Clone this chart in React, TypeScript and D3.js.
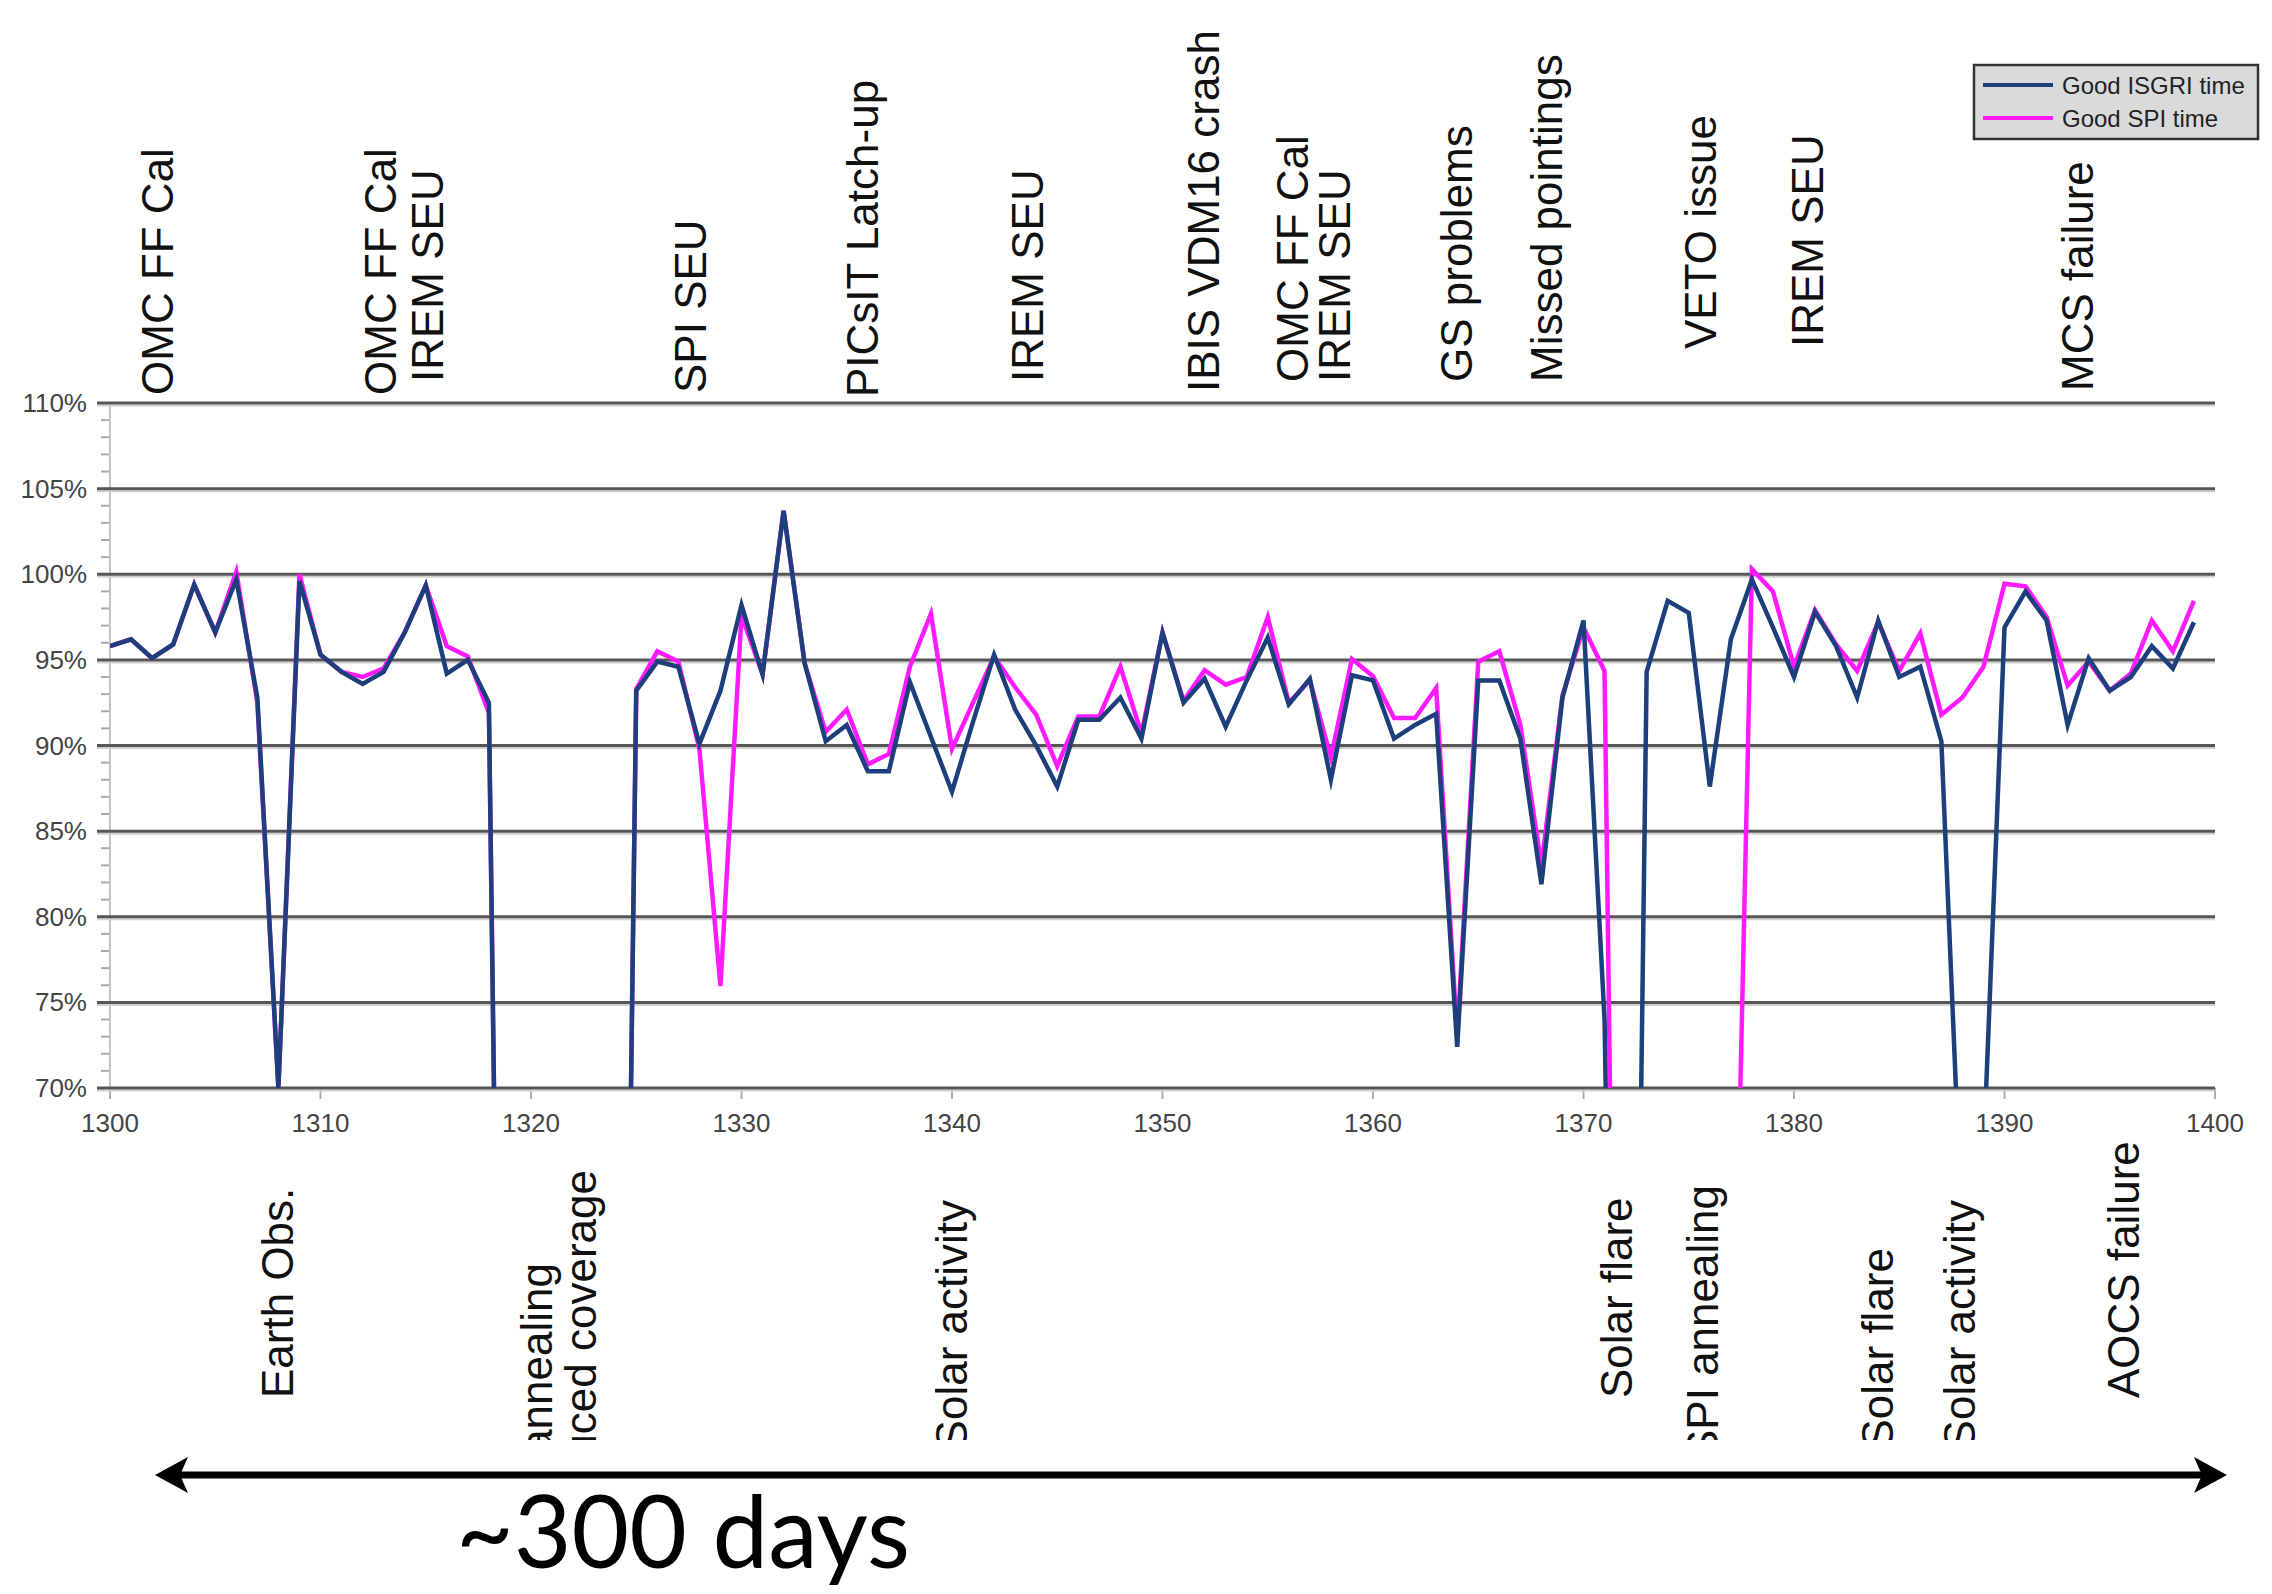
import React, { useEffect, useRef } from 'react';
import * as d3 from 'd3';

// good observing time per revolution (%), one value per revolution from 1300
const firstRev = 1300;
const isgriGood = [
  95.8, 96.2, 95.1, 95.9, 99.4, 96.6, 99.7, 92.8, 70.0, 99.6,
  95.3, 94.3, 93.6, 94.3, 96.6, 99.35, 94.2, 95.0, 92.5, 0,
  0, 0, 0, 0, 0, 93.2, 94.9, 94.6, 90.1, 93.2,
  98.2, 94.15, 103.7, 94.8, 90.25, 91.2, 88.5, 88.5, 93.7, 90.5,
  87.3, 91.4, 95.3, 92.1, 90.0, 87.6, 91.5, 91.5, 92.8, 90.4,
  96.6, 92.5, 93.9, 91.1, 93.8, 96.3, 92.4, 93.9, 88.0, 94.1,
  93.8, 90.4, 91.2, 91.85, 72.4, 93.8, 93.8, 90.4, 81.9, 92.8,
  97.3, 74, 0, 94.3, 98.45, 97.75, 87.6, 96.2, 99.7, 96.9,
  94.0, 97.8, 95.8, 92.8, 97.3, 94.0, 94.6, 90.25, 61, 66,
  96.9, 99.0, 97.3, 91.2, 95.1, 93.2, 94.0, 95.8, 94.5, 97.2,
];
const spiGood = [
  95.8, 96.2, 95.1, 95.9, 99.4, 96.6, 100.15, 92.5, 70.0, 100.0,
  95.3, 94.3, 94.0, 94.5, 96.6, 99.35, 95.8, 95.2, 91.9, 0,
  0, 0, 0, 0, 0, 93.3, 95.5, 94.9, 89.8, 75.95,
  97.6, 94.15, 103.7, 94.8, 90.8, 92.1, 88.9, 89.5, 94.6, 97.7,
  89.8, 92.5, 95.2, 93.4, 91.8, 88.8, 91.7, 91.7, 94.6, 90.7,
  96.6, 92.6, 94.4, 93.55, 94.0, 97.5, 92.5, 93.8, 89.3, 95.05,
  94.05, 91.6, 91.6, 93.35, 73.0, 94.9, 95.5, 91.2, 83.0, 92.9,
  96.9, 94.35, 0, 0, 0, 0, 0, 45, 100.3, 99.0,
  94.6, 97.9, 95.9, 94.35, 97.2, 94.35, 96.55, 91.8, 92.8, 94.6,
  99.45, 99.3, 97.5, 93.5, 94.9, 93.2, 94.2, 97.3, 95.5, 98.45,
];

const yTicks = [70, 75, 80, 85, 90, 95, 100, 105, 110];
const yMinor = d3.range(70, 111, 1);
const xTicks = [1300, 1310, 1320, 1330, 1340, 1350, 1360, 1370, 1380, 1390, 1400];

const seriesNames = ['Good ISGRI time', 'Good SPI time'];
const seriesColors = ['#1d3f7b', '#ff1aff'];

// events written above the chart: text, revolution, bottom of text
const topNotes: [string, number, number][] = [
  ['OMC FF Cal', 1303.0, 395],
  ['OMC FF Cal', 1313.6, 395],
  ['IREM SEU', 1315.8, 382],
  ['SPI SEU', 1328.3, 393],
  ['PICsIT Latch-up', 1336.5, 397],
  ['IREM SEU', 1344.3, 382],
  ['IBIS VDM16 crash', 1352.7, 392],
  ['OMC FF Cal', 1356.9, 382],
  ['IREM SEU', 1358.9, 382],
  ['GS problems', 1364.7, 382],
  ['Missed pointings', 1369.0, 382],
  ['VETO issue', 1376.3, 349],
  ['IREM SEU', 1381.4, 347],
  ['MCS failure', 1394.2, 391],
];

// events written below the chart: text, revolution, y, anchor
const bottomNotes: [string, number, number, string][] = [
  ['Earth Obs.', 1308.7, 1398, 'start'],
  ['SPI annealing', 1321.0, 1263, 'end'],
  ['Reduced coverage', 1323.1, 1170, 'end'],
  ['Solar activity', 1340.7, 1200, 'end'],
  ['Solar flare', 1372.3, 1398, 'start'],
  ['SPI annealing', 1376.4, 1185, 'end'],
  ['Solar flare', 1384.7, 1248, 'end'],
  ['Solar activity', 1388.6, 1200, 'end'],
  ['AOCS failure', 1396.4, 1398, 'start'],
];

const W = 2272;
const H = 1594;
const FONT = '"Liberation Sans", Arial, Helvetica, sans-serif';

const App: React.FC = () => {
  const svgRef = useRef<SVGSVGElement>(null);

  useEffect(() => {
    document.body.style.margin = '0';
    if (!svgRef.current) return;
    const svg = d3.select(svgRef.current);
    svg.selectAll('*').remove();

    const x = d3.scaleLinear().domain([1300, 1400]).range([110, 2215]);
    const y = d3.scaleLinear().domain([70, 110]).range([1088, 403]);

    svg.append('rect').attr('width', W).attr('height', H).attr('fill', '#fff');

    const defs = svg.append('defs');
    defs.append('clipPath').attr('id', 'plotClip')
      .append('rect').attr('x', 110).attr('y', 400).attr('width', 2105).attr('height', 688);
    defs.append('clipPath').attr('id', 'noteClip')
      .append('rect').attr('x', 0).attr('y', 1100).attr('width', W).attr('height', 340);

    // minor ticks + axis line
    svg.selectAll('.minor').data(yMinor).enter().append('line')
      .attr('x1', 101).attr('x2', 110)
      .attr('y1', d => y(d)).attr('y2', d => y(d))
      .attr('stroke', '#aaa').attr('stroke-width', 2);
    svg.append('line')
      .attr('x1', 110).attr('x2', 110).attr('y1', 403).attr('y2', 1088)
      .attr('stroke', '#c4c4c4').attr('stroke-width', 2);

    // x ticks
    svg.selectAll('.xt').data(xTicks).enter().append('line')
      .attr('x1', d => x(d)).attr('x2', d => x(d))
      .attr('y1', 1088).attr('y2', 1099)
      .attr('stroke', '#b0b0b0').attr('stroke-width', 2);

    // gridlines
    svg.selectAll('.grid-shadow').data(yTicks).enter().append('line')
      .attr('x1', 97).attr('x2', 2215)
      .attr('y1', d => y(d) + 2.5).attr('y2', d => y(d) + 2.5)
      .attr('stroke', '#d0d0d0').attr('stroke-width', 2);
    svg.selectAll('.grid').data(yTicks).enter().append('line')
      .attr('x1', 97).attr('x2', 2215)
      .attr('y1', d => y(d)).attr('y2', d => y(d))
      .attr('stroke', '#565656').attr('stroke-width', 3);

    // tick labels
    svg.selectAll('.yl').data(yTicks).enter().append('text')
      .attr('x', 87).attr('y', d => y(d) + 9)
      .attr('text-anchor', 'end')
      .attr('font-family', FONT).attr('font-size', 26)
      .attr('fill', '#444')
      .text(d => `${d}%`);
    svg.selectAll('.xl').data(xTicks).enter().append('text')
      .attr('x', d => x(d)).attr('y', 1132)
      .attr('text-anchor', 'middle')
      .attr('font-family', FONT).attr('font-size', 26)
      .attr('fill', '#444')
      .text(d => d);

    // series
    const line = d3.line<number>()
      .x((_, i) => x(firstRev + i))
      .y(d => y(d));
    const plot = svg.append('g').attr('clip-path', 'url(#plotClip)');
    [spiGood, isgriGood].forEach((vals, k) => {
      plot.append('path')
        .datum(vals)
        .attr('d', line)
        .attr('fill', 'none')
        .attr('stroke', k === 0 ? seriesColors[1] : seriesColors[0])
        .attr('stroke-width', 4.5)
        .attr('stroke-linejoin', 'miter')
        .attr('stroke-miterlimit', 6);
    });

    // event notes
    topNotes.forEach(([t, rev, yb]) => {
      svg.append('text')
        .attr('transform', `translate(${x(rev)},${yb}) rotate(-90)`)
        .attr('font-family', FONT).attr('font-size', 44)
        .attr('fill', '#111')
        .text(t);
    });
    const bottomG = svg.append('g').attr('clip-path', 'url(#noteClip)');
    bottomNotes.forEach(([t, rev, yy, anchor]) => {
      bottomG.append('text')
        .attr('transform', `translate(${x(rev)},${yy}) rotate(-90)`)
        .attr('text-anchor', anchor)
        .attr('font-family', FONT).attr('font-size', 44)
        .attr('fill', '#111')
        .text(t);
    });

    // legend
    const lg = svg.append('g');
    lg.append('rect')
      .attr('x', 1974).attr('y', 65).attr('width', 284).attr('height', 74)
      .attr('fill', '#dadada').attr('stroke', '#333').attr('stroke-width', 2.5);
    seriesNames.forEach((name, i) => {
      const ly = 85 + i * 33;
      lg.append('line')
        .attr('x1', 1983).attr('x2', 2053).attr('y1', ly).attr('y2', ly)
        .attr('stroke', seriesColors[i]).attr('stroke-width', 4);
      lg.append('text')
        .attr('x', 2062).attr('y', ly + 9)
        .attr('font-family', FONT).attr('font-size', 24)
        .attr('fill', '#222')
        .text(name);
    });

    // span arrow
    const ay = 1475;
    svg.append('line')
      .attr('x1', 175).attr('x2', 2205).attr('y1', ay).attr('y2', ay)
      .attr('stroke', '#000').attr('stroke-width', 7);
    svg.append('path')
      .attr('d', `M155,${ay} L188,${ay - 18} L180,${ay} L188,${ay + 18} Z`)
      .attr('fill', '#000');
    svg.append('path')
      .attr('d', `M2227,${ay} L2194,${ay - 18} L2202,${ay} L2194,${ay + 18} Z`)
      .attr('fill', '#000');
    svg.append('text')
      .attr('x', 456).attr('y', 1568)
      .attr('font-family', '"Gill Sans", Lato, "Open Sans", sans-serif')
      .attr('font-size', 100)
      .attr('textLength', 454)
      .attr('lengthAdjust', 'spacingAndGlyphs')
      .attr('fill', '#000')
      .text('~300 days');
  }, []);

  return <svg ref={svgRef} width={W} height={H} style={{ display: 'block' }} />;
};

export default App;
